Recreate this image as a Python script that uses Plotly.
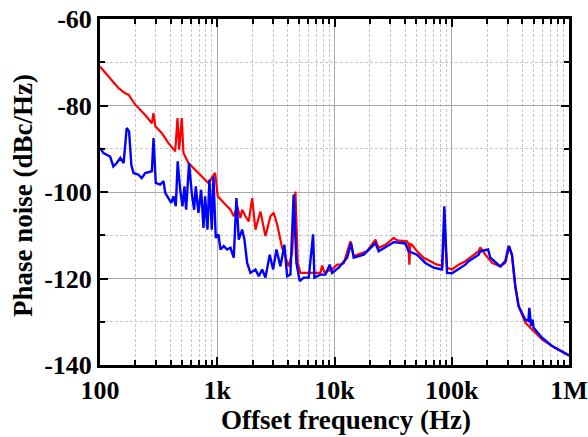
import plotly.graph_objects as go

# Red trace (frequency in Hz, phase noise in dBc/Hz)
red_freq = [100, 126, 144, 164, 175, 200, 243, 277, 286, 296, 337, 384, 438, 458, 473, 498, 515,
            568, 648, 738, 841, 959, 1010, 1136, 1296, 1383, 1478, 1577, 1631, 1740, 1856, 1984,
            2117, 2335, 2576, 2841, 3031, 3241, 3575, 4070, 4350, 4642, 4857, 5120, 6230, 7582,
            7834, 8200, 9540, 10520, 11220, 11980, 13660, 14580, 18970, 22330, 23820, 27160,
            31970, 34180, 41590, 42660, 43500, 44360, 45870, 50580, 57610, 65700, 74940, 83180,
            86480, 91200, 100600, 114500, 130600, 148900, 169500, 175300, 193400, 220600,
            259400, 286400, 309700, 326600, 348300, 371700, 423800, 483700, 588800, 716600,
            1000000]
red_pn = [-71.0, -74.1, -76.0, -77.2, -77.5, -79.8, -82.2, -84.1, -81.8, -84.8, -86.4, -88.7,
          -90.6, -82.9, -90.2, -82.9, -91.0, -93.3, -94.8, -96.4, -97.9, -95.6, -101.0, -102.5,
          -104.1, -105.6, -103.3, -106.0, -104.1, -105.6, -106.8, -101.4, -108.7, -104.5,
          -110.2, -105.6, -104.8, -107.5, -112.9, -117.2, -114.1, -99.9, -116.4, -118.7,
          -118.7, -118.7, -117.0, -118.5, -117.9, -116.8, -116.8, -116.5, -111.4, -114.8,
          -113.7, -111.0, -112.9, -112.2, -110.6, -111.2, -111.4, -112.0, -116.8, -112.0,
          -112.2, -113.7, -115.2, -116.0, -116.8, -117.0, -108.0, -117.5, -117.9, -116.8,
          -116.0, -114.8, -113.7, -112.8, -114.5, -116.4, -117.2, -116.4, -112.5, -114.8,
          -121.8, -126.4, -130.2, -131.8, -134.1, -135.6, -137.8]

# Blue trace
blue_freq = [100, 107, 114, 122, 130, 139, 149, 159, 169, 177, 185, 193, 213, 227, 243, 277,
             286, 299, 326, 348, 360, 384, 405, 423, 443, 460, 483, 505, 525, 543, 575, 606,
             635, 656, 691, 729, 763, 788, 825, 858, 898, 928, 971, 1024, 1065, 1136, 1214,
             1296, 1383, 1458, 1525, 1631, 1706, 1799, 1919, 2117, 2259, 2415, 2576, 2803,
             2997, 3197, 3458, 3741, 3945, 4207, 4487, 4732, 5050, 5464, 6026, 6569, 6738,
             7582, 8365, 9100, 9540, 10860, 12810, 13850, 14580, 17740, 22330, 23820, 31970,
             40180, 42900, 50580, 59570, 70100, 82600, 86480, 91200, 100600, 114500, 130600,
             139300, 169500, 175300, 204000, 213300, 259400, 286400, 305500, 326600, 348300,
             371700, 423800, 449800, 459000, 474500, 489500, 499000, 588800, 716600, 1000000]
blue_pn = [-89.8, -91.0, -91.4, -91.8, -94.1, -93.3, -92.1, -93.3, -85.2, -86.0, -93.7, -95.6,
           -96.0, -96.8, -95.6, -95.2, -87.5, -97.9, -98.3, -97.5, -100.2, -101.4, -102.5,
           -101.0, -103.3, -92.9, -99.5, -103.3, -98.7, -104.1, -93.3, -100.2, -104.1, -98.7,
           -104.8, -99.5, -108.3, -101.0, -108.7, -97.1, -108.7, -96.4, -110.6, -109.8,
           -113.3, -112.5, -113.3, -112.9, -115.2, -101.4, -111.0, -108.7, -111.0, -116.4,
           -118.7, -117.9, -119.5, -117.9, -119.8, -114.5, -117.9, -113.3, -117.2, -112.2,
           -119.5, -119.1, -100.6, -116.4, -120.6, -119.8, -119.8, -109.8, -119.8, -119.1,
           -119.1, -116.8, -118.7, -117.5, -115.2, -111.8, -115.2, -114.5, -111.8, -113.7,
           -111.6, -111.9, -113.7, -114.5, -116.4, -117.5, -117.9, -103.3, -118.7, -118.8,
           -117.9, -116.8, -116.0, -114.5, -113.7, -113.3, -115.2, -117.2, -116.0, -112.5,
           -114.5, -121.8, -126.4, -129.5, -129.8, -126.8, -131.0, -129.5, -131.4, -133.7,
           -135.6, -137.8]

x_tickvals = [100, 1000, 10000, 100000, 1000000]
x_ticktext = ["100", "1k", "10k", "100k", "1M"]
y_tickvals = [-140, -120, -100, -80, -60]
y_ticktext = ["-140", "-120", "-100", "-80", "-60"]
x_title = "Offset frequency (Hz)"
y_title = "Phase noise (dBc/Hz)"

x_minor = [m * 10 ** e for e in range(2, 6) for m in range(2, 10)]

font_family = "Liberation Serif, Times New Roman, serif"

fig = go.Figure()
fig.add_trace(go.Scatter(x=red_freq, y=red_pn, mode="lines",
                         line=dict(color="#ff0000", width=2.2), showlegend=False))
fig.add_trace(go.Scatter(x=blue_freq, y=blue_pn, mode="lines",
                         line=dict(color="#0000ff", width=2.4), showlegend=False))

axis_common = dict(
    showline=True, linecolor="black", linewidth=3, mirror="ticks",
    ticks="inside", ticklen=8, tickwidth=2, tickcolor="black",
    showgrid=True, gridcolor="#a8a8a8", gridwidth=1,
    tickfont=dict(family=font_family, size=26, color="black", weight="bold"),
    zeroline=False, automargin=False, ticklabeloverflow="allow",
)
minor_common = dict(ticks="inside", ticklen=5, tickwidth=2, tickcolor="black",
                    showgrid=True, gridcolor="#c8c8c8", griddash="3px,2px", gridwidth=1)

title_font = dict(family=font_family, size=27, color="black", weight="bold")

fig.update_layout(
    width=588, height=437,
    margin=dict(l=100, r=19, t=19, b=72),
    paper_bgcolor="white", plot_bgcolor="white",
    xaxis=dict(
        type="log", range=[2, 6],
        tickmode="array", tickvals=x_tickvals, ticktext=x_ticktext,
        minor=dict(tickmode="array", tickvals=x_minor, **minor_common),
        **axis_common,
    ),
    yaxis=dict(
        range=[-140, -60],
        tickmode="array", tickvals=y_tickvals, ticktext=y_ticktext,
        minor=dict(dtick=10, **minor_common),
        **axis_common,
    ),
    annotations=[
        dict(text=x_title, xref="paper", yref="paper", x=0.5245, y=0,
             xanchor="center", yanchor="middle", yshift=-55, showarrow=False,
             font=title_font),
        dict(text=y_title, xref="paper", yref="paper", x=0, y=0.503,
             xanchor="center", yanchor="middle", xshift=-77, yshift=-5, textangle=-90,
             showarrow=False, font=title_font),
    ],
)

# Remove the default 8px page margin so the figure fills the window exactly.
fig.write_html("out.html", config={"displayModeBar": False},
               post_script="document.body.style.margin='0';document.body.style.overflow='hidden';")
